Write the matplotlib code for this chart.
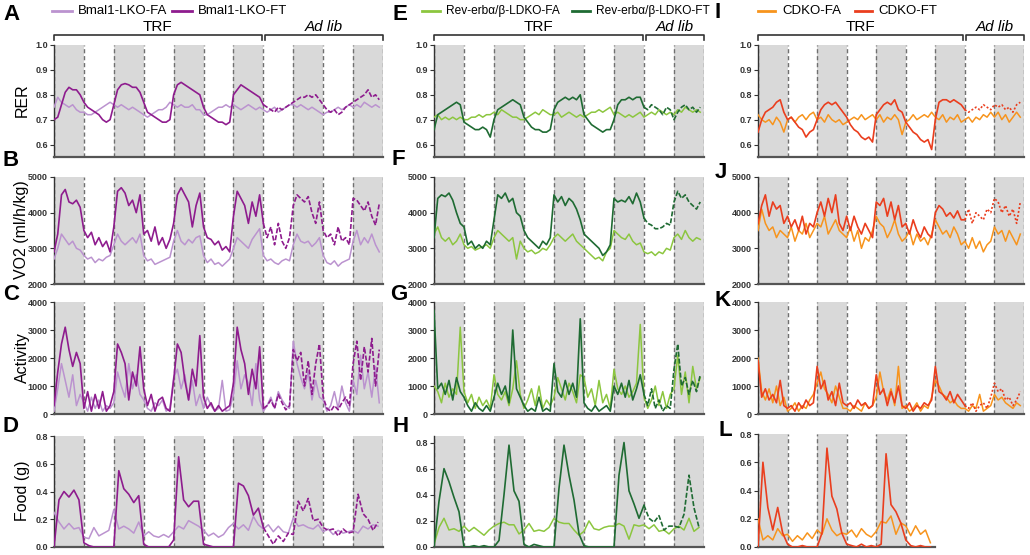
import numpy as np
import matplotlib.pyplot as plt
from matplotlib.lines import Line2D

plt.rcParams['font.family'] = ['Liberation Sans', 'DejaVu Sans']

# ---- data: each line of a list is one 12 h half-period (dark, light, dark, ...)
# physiology traces sampled every 1.5 h, food every 2 h
STEP = 1.5
FSTEP = 2.0

bmal_rer_fa = [
    0.75, 0.79, 0.77, 0.76, 0.75, 0.76, 0.74, 0.73,
    0.73, 0.72, 0.72, 0.73, 0.74, 0.75, 0.76, 0.77,
    0.76, 0.75, 0.76, 0.75, 0.74, 0.75, 0.74, 0.73,
    0.72, 0.71, 0.72, 0.73, 0.74, 0.74, 0.75, 0.77,
    0.76, 0.75, 0.76, 0.75, 0.75, 0.76, 0.74, 0.74,
    0.72, 0.72, 0.73, 0.74, 0.75, 0.75, 0.76, 0.75,
    0.76, 0.75, 0.74, 0.75, 0.76, 0.75, 0.74, 0.75,
    0.74, 0.73, 0.74, 0.75, 0.73, 0.74, 0.75, 0.76,
    0.76, 0.75, 0.76, 0.75, 0.74, 0.75, 0.74, 0.73,
    0.72, 0.73, 0.73, 0.74, 0.75, 0.74, 0.75, 0.76,
    0.75, 0.76, 0.75, 0.77, 0.76, 0.75, 0.76, 0.75]
bmal_rer_ft = [
    0.70, 0.71, 0.76, 0.81, 0.83, 0.82, 0.82, 0.80,
    0.77, 0.75, 0.74, 0.73, 0.72, 0.70, 0.69, 0.70,
    0.76, 0.82, 0.84, 0.845, 0.84, 0.83, 0.83, 0.81,
    0.77, 0.73, 0.72, 0.71, 0.70, 0.69, 0.69, 0.70,
    0.80, 0.84, 0.85, 0.84, 0.83, 0.82, 0.81, 0.80,
    0.75, 0.72, 0.71, 0.70, 0.69, 0.69, 0.68, 0.69,
    0.80, 0.82, 0.84, 0.83, 0.82, 0.81, 0.80, 0.79,
    0.76, 0.75, 0.74, 0.73, 0.75, 0.74, 0.75, 0.76,
    0.77, 0.78, 0.79, 0.79, 0.80, 0.79, 0.80, 0.78,
    0.76, 0.74, 0.73, 0.74, 0.72, 0.73, 0.75, 0.76,
    0.77, 0.78, 0.79, 0.80, 0.82, 0.79, 0.80, 0.78]

bmal_vo2_fa = [
    2700, 3000, 3400, 3250, 3100, 3200, 3000, 2950,
    2800, 2700, 2750, 2600, 2700, 2650, 2750, 2800,
    3100, 3400, 3200, 3100, 3200, 3300, 3150, 3400,
    2800, 2650, 2700, 2550, 2600, 2650, 2700, 2750,
    3200, 3500, 3200, 3100, 3250, 3150, 3300, 3350,
    2800, 2600, 2700, 2550, 2600, 2500, 2600, 2700,
    3000, 3300, 3200, 3100, 3000, 3250, 3400, 3550,
    2800, 2650, 2700, 2600, 2550, 2650, 2700, 2650,
    3100, 3400, 3200, 3150, 3200, 3050, 3150, 3300,
    2800, 2600, 2550, 2650, 2500, 2600, 2650, 2700,
    3200, 3500, 3100, 3300, 3150, 3400, 3100, 2900]
bmal_vo2_ft = [
    2900, 3400, 4500, 4650, 4300, 4250, 4350, 4150,
    3500, 3300, 3450, 3100, 3300, 3050, 3200, 2900,
    3600, 4600, 4700, 4550, 4200, 4350, 4000, 4500,
    3400, 3500, 3200, 3600, 3100, 3300, 3000, 3250,
    3700, 4500, 4700, 4500, 4300, 3600, 4200, 4550,
    3600, 3300, 3250, 3100, 3200, 2950, 3050, 2900,
    3900, 4600, 4400, 4200, 3700, 4300, 3900, 4500,
    3700, 3300, 3600, 3100, 3700, 3200, 3000, 3300,
    4200, 4500, 4400, 4300, 4450, 4000, 3700, 4300,
    3500, 3300, 3400, 3100, 3600, 3200, 3300, 3100,
    4400, 4350, 4200, 4050, 4300, 3900, 3650, 4250]

bmal_act_fa = [
    100, 900, 1800, 1200, 600, 1400, 300, 700,
    400, 100, 600, 200, 500, 100, 300, 200,
    400, 1500, 1000, 600, 1800, 900, 1400, 700,
    500, 200, 100, 400, 300, 500, 100, 200,
    1300, 1600, 900, 1400, 500, 1200, 300, 700,
    200, 600, 300, 100, 200, 1200, 100, 150,
    700, 1900, 900, 1400, 1100, 300, 1800, 500,
    100, 300, 600, 200, 800, 500, 300, 200,
    2600, 1800, 1300, 900, 1500, 500, 1200, 600,
    500, 100, 300, 800, 200, 1000, 400, 100,
    1200, 700, 2100, 900, 1500, 600, 1700, 400]
bmal_act_ft = [
    300, 1500, 2500, 3100, 2300, 1700, 2200, 1800,
    200, 800, 100, 700, 200, 800, 100, 300,
    800, 2500, 2200, 1800, 500, 1500, 1000, 2400,
    900, 300, 700, 100, 500, 600, 200, 100,
    1200, 2500, 2200, 1200, 500, 1600, 1000, 2800,
    600, 200, 400, 100, 300, 100, 200, 300,
    1100, 3100, 2300, 1800, 700, 1600, 900, 2400,
    200, 300, 500, 200, 700, 400, 150, 300,
    2300, 1900, 2200, 1000, 1900, 700, 1800, 2500,
    600, 200, 100, 300, 150, 400, 600, 300,
    1800, 2600, 1200, 2400, 1500, 2700, 1000, 2300]

bmal_food_fa = [
    0.25, 0.18, 0.13, 0.17, 0.13, 0.14,
    0.07, 0.06, 0.14, 0.08, 0.10, 0.12,
    0.27, 0.13, 0.15, 0.13, 0.10, 0.18,
    0.08, 0.11, 0.08, 0.07, 0.09, 0.07,
    0.11, 0.15, 0.13, 0.19, 0.17, 0.15,
    0.12, 0.08, 0.10, 0.07, 0.09, 0.14,
    0.17, 0.13, 0.16, 0.12, 0.22, 0.16,
    0.13, 0.16, 0.11, 0.15, 0.11, 0.10,
    0.21, 0.15, 0.16, 0.14, 0.13, 0.16,
    0.11, 0.13, 0.09, 0.12, 0.10, 0.11,
    0.12, 0.10, 0.15, 0.13, 0.16, 0.15]
bmal_food_ft = [
    0.00, 0.34, 0.40, 0.36, 0.41, 0.34,
    0.03, 0.01, 0.00, 0.00, 0.00, 0.00,
    0.00, 0.55, 0.42, 0.38, 0.32, 0.37,
    0.02, 0.00, 0.00, 0.00, 0.00, 0.00,
    0.05, 0.65, 0.34, 0.29, 0.33, 0.33,
    0.02, 0.01, 0.00, 0.00, 0.00, 0.00,
    0.00, 0.46, 0.44, 0.37, 0.23, 0.28,
    0.14, 0.08, 0.02, 0.08, 0.04, 0.10,
    0.09, 0.33, 0.26, 0.35, 0.19, 0.20,
    0.14, 0.12, 0.13, 0.08, 0.13, 0.10,
    0.11, 0.38, 0.24, 0.20, 0.12, 0.18]

rev_rer_fa = [
    0.71, 0.72, 0.70, 0.71, 0.70, 0.71, 0.70, 0.71,
    0.70, 0.70, 0.71, 0.71, 0.72, 0.71, 0.72, 0.72,
    0.73, 0.72, 0.74, 0.73, 0.72, 0.71, 0.71, 0.70,
    0.70, 0.71, 0.72, 0.73, 0.72, 0.74, 0.73, 0.72,
    0.72, 0.73, 0.71, 0.72, 0.73, 0.72, 0.71, 0.72,
    0.71, 0.72, 0.73, 0.73, 0.74, 0.73, 0.74, 0.75,
    0.72, 0.73, 0.72, 0.71, 0.72, 0.71, 0.72, 0.73,
    0.71, 0.72, 0.73, 0.72, 0.74, 0.73, 0.72, 0.73,
    0.72, 0.74, 0.73, 0.75, 0.74, 0.73, 0.74, 0.73]
rev_rer_ft = [
    0.66, 0.72, 0.73, 0.74, 0.75, 0.76, 0.77, 0.76,
    0.69, 0.68, 0.67, 0.66, 0.66, 0.67, 0.66, 0.63,
    0.70, 0.74, 0.75, 0.76, 0.77, 0.78, 0.77, 0.76,
    0.71, 0.69, 0.67, 0.66, 0.66, 0.65, 0.65, 0.66,
    0.74, 0.77, 0.78, 0.79, 0.78, 0.79, 0.78, 0.80,
    0.72, 0.70, 0.68, 0.67, 0.66, 0.65, 0.66, 0.66,
    0.70, 0.76, 0.78, 0.78, 0.79, 0.78, 0.79, 0.79,
    0.75, 0.74, 0.76, 0.75, 0.74, 0.72, 0.75, 0.74,
    0.70, 0.73, 0.75, 0.76, 0.74, 0.75, 0.73, 0.75]

rev_vo2_fa = [
    3400, 3600, 3300, 3200, 3300, 3100, 3200, 3400,
    3100, 3000, 3050, 2950, 3000, 3050, 3100, 3000,
    3300, 3500, 3400, 3300, 3200, 3300, 2700, 3200,
    3000, 2900, 2950, 2850, 2900, 3000, 2950, 3100,
    3300, 3400, 3300, 3200, 3300, 3400, 3200, 3100,
    3000, 2900, 2800, 2700, 2750, 2650, 2900, 3000,
    3500, 3400, 3300, 3250, 3400, 3200, 3100, 3150,
    2900, 2850, 2900, 2800, 2900, 2850, 3000, 2950,
    3300, 3400, 3250, 3500, 3300, 3200, 3300, 3250]
rev_vo2_ft = [
    3300, 4400, 4500, 4450, 4550, 4350, 4000, 3700,
    3600, 3100, 3200, 3000, 3100, 3000, 3200, 3100,
    3800, 4500, 4400, 4550, 4300, 4400, 4000, 3900,
    3500, 3300, 3200, 3100, 3000, 3200, 3100, 3300,
    4500, 4300, 4450, 4200, 4400, 4300, 4100, 3800,
    3400, 3300, 3200, 3100, 3000, 2800, 2900, 3100,
    4400, 4300, 4350, 4300, 4450, 4250, 4550, 4300,
    3850, 3700, 3650, 3550, 3550, 3600, 3700, 3650,
    4300, 4600, 4400, 4500, 4300, 4200, 4100, 4300]

rev_act_fa = [
    1000, 800, 400, 1100, 600, 900, 700, 3100,
    800, 400, 700, 200, 600, 300, 500, 200,
    1400, 700, 500, 800, 300, 900, 1900, 700,
    200, 500, 900, 300, 1000, 200, 500, 300,
    600, 1300, 900, 500, 1100, 800, 400, 1400,
    1300, 600, 900, 300, 1200, 400, 700, 200,
    1600, 900, 700, 1000, 600, 800, 1100, 3200,
    600, 200, 500, 1000, 300, 800, 200, 700,
    900, 2100, 700, 1500, 400, 1700, 900, 1300]
rev_act_ft = [
    3700, 900, 1100, 700, 1200, 500, 1300, 800,
    600, 300, 100, 400, 200, 100, 300, 100,
    600, 1100, 700, 1000, 400, 3000, 900, 600,
    300, 100, 200, 100, 600, 100, 200, 100,
    1800, 800, 600, 1200, 700, 1100, 600, 3400,
    400, 200, 100, 300, 100, 200, 300, 100,
    1000, 700, 1100, 600, 1200, 500, 900, 1400,
    700, 300, 900, 200, 500, 100, 300, 200,
    1600, 2500, 1000, 1300, 700, 1200, 800, 1400]

rev_food_fa = [
    0.02, 0.15, 0.22, 0.13, 0.14, 0.12,
    0.16, 0.12, 0.15, 0.12, 0.09, 0.13,
    0.16, 0.18, 0.19, 0.17, 0.17, 0.10,
    0.13, 0.18, 0.12, 0.13, 0.12, 0.15,
    0.22, 0.19, 0.18, 0.18, 0.13, 0.09,
    0.12, 0.20, 0.14, 0.13, 0.15, 0.16,
    0.16, 0.18, 0.16, 0.06, 0.17, 0.16,
    0.17, 0.14, 0.17, 0.12, 0.13, 0.10,
    0.14, 0.16, 0.13, 0.22, 0.12, 0.15]
rev_food_ft = [
    0.00, 0.35, 0.60, 0.50, 0.38, 0.27,
    0.00, 0.00, 0.01, 0.00, 0.01, 0.00,
    0.00, 0.05, 0.40, 0.78, 0.43, 0.35,
    0.02, 0.00, 0.02, 0.01, 0.00, 0.00,
    0.00, 0.45, 0.78, 0.55, 0.36, 0.10,
    0.01, 0.00, 0.00, 0.00, 0.00, 0.00,
    0.00, 0.55, 0.80, 0.43, 0.33, 0.22,
    0.32, 0.22, 0.19, 0.24, 0.13, 0.16,
    0.16, 0.15, 0.25, 0.55, 0.30, 0.15]

cdko_rer_fa = [
    0.72, 0.70, 0.69, 0.70, 0.68, 0.71, 0.69, 0.65,
    0.70, 0.71, 0.69, 0.71, 0.72, 0.70, 0.72, 0.73,
    0.70, 0.71, 0.69, 0.72, 0.70, 0.69, 0.70, 0.68,
    0.69, 0.70, 0.71, 0.70, 0.72, 0.70, 0.71, 0.72,
    0.70, 0.72, 0.69, 0.71, 0.70, 0.72, 0.70, 0.64,
    0.69, 0.70, 0.72, 0.70, 0.71, 0.72, 0.71, 0.73,
    0.71, 0.70, 0.72, 0.69, 0.71, 0.70, 0.72, 0.69,
    0.70, 0.71, 0.69, 0.71, 0.70, 0.72, 0.71, 0.73,
    0.71, 0.73, 0.70, 0.72, 0.69, 0.71, 0.73, 0.71]
cdko_rer_ft = [
    0.65, 0.70, 0.73, 0.74, 0.75, 0.77, 0.78, 0.73,
    0.70, 0.71, 0.69, 0.67, 0.66, 0.63, 0.65, 0.66,
    0.70, 0.74, 0.76, 0.77, 0.76, 0.77, 0.75, 0.73,
    0.71, 0.68, 0.66, 0.65, 0.63, 0.62, 0.63, 0.61,
    0.72, 0.74, 0.76, 0.77, 0.76, 0.78, 0.74, 0.73,
    0.69, 0.67, 0.65, 0.64, 0.62, 0.61, 0.62, 0.58,
    0.70, 0.77, 0.78, 0.78, 0.77, 0.78, 0.77, 0.76,
    0.74, 0.73, 0.74, 0.75, 0.74, 0.76, 0.75, 0.74,
    0.76, 0.75, 0.76, 0.74, 0.75, 0.73, 0.76, 0.77]

cdko_vo2_fa = [
    3500, 4100, 3700, 3500, 3600, 3300, 3500, 3400,
    3300, 3600, 3200, 3500, 3400, 3700, 3300, 3500,
    3700, 3600, 3900, 3400, 3600, 3800, 3500, 3400,
    3300, 3600, 3200, 3500, 3000, 3300, 3200, 3500,
    3900, 3700, 3600, 3300, 3500, 3800, 3400, 3200,
    3300, 3500, 3100, 3400, 3200, 3300, 3100, 3400,
    3800, 3600, 3400, 3500, 3300, 3600, 3400, 3100,
    3200, 3000, 3300, 3000, 3200, 2900, 3100, 3200,
    3600, 3400, 3500, 3200, 3500, 3300, 3100, 3400]
cdko_vo2_ft = [
    3700, 4200, 4500, 3900, 4300, 4100, 4200, 3700,
    3900, 3600, 3800, 3500, 3900, 3400, 3700, 3600,
    4000, 4300, 3900, 4400, 4000, 4500, 3700, 3500,
    3900, 3500, 3900, 3600, 3400, 3700, 3500, 3300,
    4300, 4200, 4400, 3900, 4300, 3800, 4200, 3600,
    3700, 3400, 3800, 3500, 3300, 3600, 3400, 3300,
    4000, 4200, 4100, 3900, 4000, 3850, 4050, 3800,
    3800, 4100, 3700, 4000, 3900, 3800, 4100, 4000,
    4400, 4300, 4000, 4200, 3900, 4100, 3700, 4300]

cdko_act_fa = [
    2000, 800, 500, 900, 400, 1000, 300, 600,
    100, 200, 400, 100, 300, 200, 500, 700,
    1100, 1500, 900, 700, 400, 1000, 600, 200,
    200, 100, 300, 200, 100, 400, 200, 300,
    600, 1500, 800, 500, 900, 300, 1700, 200,
    300, 100, 200, 400, 100, 300, 200, 600,
    1200, 1000, 700, 600, 400, 500, 300, 200,
    200, 100, 300, 200, 700, 100, 200, 300,
    700, 500, 600, 400, 300, 200, 400, 300]
cdko_act_ft = [
    1900, 600, 900, 500, 700, 400, 1200, 300,
    200, 300, 100, 400, 200, 500, 300, 400,
    1700, 900, 1200, 500, 800, 300, 1100, 400,
    300, 400, 200, 500, 300, 400, 200, 300,
    1400, 700, 900, 300, 800, 400, 1000, 300,
    200, 400, 100, 300, 200, 400, 300, 500,
    1700, 800, 700, 500, 800, 400, 700, 500,
    300, 200, 400, 100, 300, 400, 200, 600,
    1100, 800, 900, 500, 600, 300, 500, 800]

cdko_food_fa = [
    0.20, 0.05, 0.08, 0.05, 0.13, 0.08,
    0.09, 0.04, 0.08, 0.05, 0.10, 0.06,
    0.12, 0.09, 0.20, 0.12, 0.08, 0.10,
    0.09, 0.12, 0.07, 0.13, 0.09, 0.07,
    0.11, 0.18, 0.17, 0.22, 0.09, 0.17,
    0.15, 0.08, 0.15, 0.09, 0.12, 0.03]
cdko_food_ft = [
    0.00, 0.60, 0.28, 0.12, 0.28, 0.10,
    0.02, 0.00, 0.00, 0.01, 0.00, 0.00,
    0.00, 0.10, 0.70, 0.36, 0.27, 0.10,
    0.02, 0.01, 0.00, 0.02, 0.00, 0.01,
    0.00, 0.02, 0.66, 0.30, 0.25, 0.17,
    0.05, 0.01, 0.00, 0.01, 0.00, 0.00]

groups = [
    ('Bmal1-LKO-FA', 'Bmal1-LKO-FT', '#bb93cf', '#8e1c8e', (0, (3, 1.2))),
    ('Rev-erb\u03b1/\u03b2-LDKO-FA', 'Rev-erb\u03b1/\u03b2-LDKO-FT', '#8cc63f', '#1f6b33', (0, (3, 1.2))),
    ('CDKO-FA', 'CDKO-FT', '#f7941d', '#ea3e1e', (0, (1.2, 1.2))),
]

W, H = 1030, 555
fig = plt.figure(figsize=(W / 100, H / 100), dpi=100)


def box(l, t, r, b):
    return [l / W, 1 - b / H, (r - l) / W, (b - t) / H]


def fx(x):
    return x / W


def fy(y):
    return 1 - y / H


def panel(rect, fa, ft, step, nhalf, ylim, yticks, fmt, g, last_line=True):
    ax = fig.add_axes(box(*rect))
    fa_col, ft_col, adls = g[2], g[3], g[4]
    for k in range(0, nhalf, 2):
        ax.axvspan(k * 12, k * 12 + 12, color='#d9d9d9', lw=0, zorder=0)
    nlines = nhalf + 1 if last_line else nhalf
    for k in range(nlines):
        ax.axvline(k * 12, ls=(0, (3, 2)), color='#707070', lw=1.0, zorder=1)
    x = np.arange(len(fa)) * step
    ax.plot(x, fa, color=fa_col, lw=1.1, zorder=3)
    cut = int(round(84 / step))
    if len(ft) > cut:
        ax.plot(x[:cut + 1], ft[:cut + 1], color=ft_col, lw=1.2, zorder=4)
        ax.plot(x[cut:], ft[cut:], color=ft_col, lw=1.2, ls=adls, zorder=4)
    else:
        ax.plot(x, ft, color=ft_col, lw=1.2, zorder=4)
    ax.set_xlim(0, nhalf * 12)
    ax.set_ylim(*ylim)
    ax.set_yticks(yticks)
    ax.set_yticklabels([fmt.format(v) for v in yticks], fontsize=6.5, fontweight='bold', color='#222')
    ax.set_xticks([])
    for s in ['top', 'right']:
        ax.spines[s].set_visible(False)
    ax.spines['bottom'].set_color('#555')
    ax.spines['bottom'].set_linewidth(1.6)
    ax.spines['left'].set_color('#333')
    ax.spines['left'].set_linewidth(1.0)
    ax.tick_params(axis='y', length=3, width=0.8, pad=1.5, colors='#333')
    return ax


cols = [(54, 383, 11), (434, 704, 9), (758, 1024, 9)]
rows = [(45, 157), (177, 284), (302, 414), (436, 547)]

series = [
    (bmal_rer_fa, bmal_rer_ft, bmal_vo2_fa, bmal_vo2_ft, bmal_act_fa, bmal_act_ft, bmal_food_fa, bmal_food_ft),
    (rev_rer_fa, rev_rer_ft, rev_vo2_fa, rev_vo2_ft, rev_act_fa, rev_act_ft, rev_food_fa, rev_food_ft),
    (cdko_rer_fa, cdko_rer_ft, cdko_vo2_fa, cdko_vo2_ft, cdko_act_fa, cdko_act_ft, cdko_food_fa, cdko_food_ft),
]

letters = ['ABCD', 'EFGH', 'IJKL']
letter_pos = [
    [(11, 14), (11, 161), (11, 294), (11, 426)],
    [(400, 14), (398, 160), (399, 295), (401, 427)],
    [(718, 13), (721, 173), (723, 300), (725, 430)],
]

for c, (l, r, nh) in enumerate(cols):
    s = series[c]
    g = groups[c]
    panel((l, rows[0][0], r, rows[0][1]), s[0], s[1], STEP, nh, (0.55, 1.0),
          [0.6, 0.7, 0.8, 0.9, 1.0], '{:.1f}', g)
    panel((l, rows[1][0], r, rows[1][1]), s[2], s[3], STEP, nh, (2000, 5000),
          [2000, 3000, 4000, 5000], '{:d}', g)
    panel((l, rows[2][0], r, rows[2][1]), s[4], s[5], STEP, nh, (0, 4000),
          [0, 1000, 2000, 3000, 4000], '{:d}', g)
    if c == 0:
        panel((l, 436, r, 547), s[6], s[7], FSTEP, nh, (0, 0.8),
              [0.0, 0.2, 0.4, 0.6, 0.8], '{:.1f}', g)
    elif c == 1:
        panel((l, 436, r, 547), s[6], s[7], FSTEP, nh, (0, 0.85),
              [0.0, 0.2, 0.4, 0.6, 0.8], '{:.1f}', g)
    else:
        panel((l, 434, l + (r - l) * 6 / 9, 547), s[6], s[7], FSTEP, 6, (0, 0.8),
              [0.0, 0.2, 0.4, 0.6, 0.8], '{:.1f}', g, last_line=False)

    for k, let in enumerate(letters[c]):
        lx, ly = letter_pos[c][k]
        fig.text(fx(lx), fy(ly), let, fontsize=16, fontweight='bold',
                 ha='center', va='center')

    # TRF / Ad lib brackets
    px_h = (r - l) / (nh * 12)
    xs = l + 84 * px_h
    for a, b, txt, sty in [(l, xs - 1.5, 'TRF', 'normal'), (xs + 1.5, r, 'Ad lib', 'italic')]:
        fig.add_artist(Line2D([fx(a), fx(a), fx(b), fx(b)], [fy(40), fy(35), fy(35), fy(40)],
                              color='#333', lw=1.2))
        fig.text(fx((a + b) / 2), fy(27), txt, fontsize=11, style=sty, ha='center', va='center')

# legends
leg = [
    [(52, 72, 78, 'Bmal1-LKO-FA', 0), (172, 192, 198, 'Bmal1-LKO-FT', 1)],
    [(422, 440, 446, 'Rev-erb\u03b1/\u03b2-LDKO-FA', 0), (572, 590, 596, 'Rev-erb\u03b1/\u03b2-LDKO-FT', 1)],
    [(758, 775, 782, 'CDKO-FA', 0), (855, 872, 878, 'CDKO-FT', 1)],
]
leg_fs = [9.5, 8.6, 9.5]
for c, items in enumerate(leg):
    for a, b, t, lab, k in items:
        fig.add_artist(Line2D([fx(a), fx(b)], [fy(11), fy(11)], color=groups[c][2 + k], lw=2))
        fig.text(fx(t), fy(11), lab, fontsize=leg_fs[c], ha='left', va='center')

# y-axis titles
for y, lab in [(100, 'RER'), (230, 'VO2 (ml/h/kg)'), (358, 'Activity'), (491, 'Food (g)')]:
    fig.text(fx(22), fy(y), lab, fontsize=11.5, rotation=90, ha='center', va='center')

fig.savefig('out.png', dpi=100)
